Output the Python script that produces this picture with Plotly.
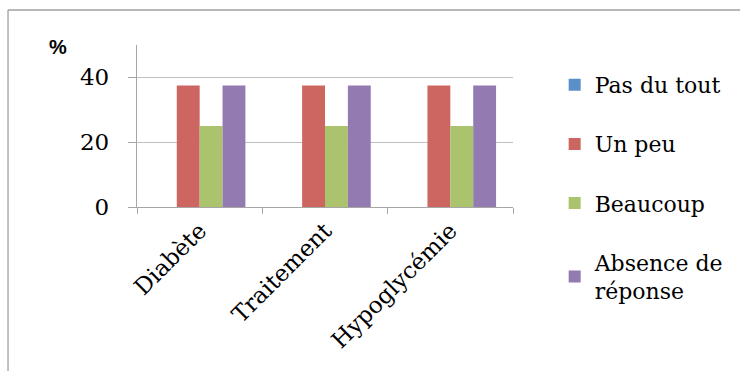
import plotly.graph_objects as go

# Survey answers, percentage of respondents per topic
categories = ["Diabète", "Traitement", "Hypoglycémie"]
series_names = ["Pas du tout", "Un peu", "Beaucoup", "Absence de<br>réponse"]
pas_du_tout = [0, 0, 0]
un_peu = [37.5, 37.5, 37.5]
beaucoup = [25, 25, 25]
absence = [37.5, 37.5, 37.5]
y_ticks = [0, 20, 40]

series_values = [pas_du_tout, un_peu, beaucoup, absence]
colors = ["#5B8FC9", "#CD6661", "#ABC36C", "#937BB2"]

W, H = 741, 371
L, R, T, B = 137, 225, 45, 164
PW, PH = W - L - R, H - T - B


def px_x(px):
    return (px - L) / PW


def px_y(py):
    return (H - B - py) / PH


serif = "DejaVu Serif"

fig = go.Figure()
for i, (name, vals) in enumerate(zip(series_names, series_values)):
    fig.add_trace(go.Bar(
        x=categories, y=vals, name=name,
        marker=dict(color=colors[i], line=dict(width=0)),
        legendgroup=f"g{i}",
    ))

fig.update_layout(
    width=W, height=H,
    margin=dict(l=L, r=R, t=T, b=B),
    paper_bgcolor="white", plot_bgcolor="white",
    barmode="group", bargap=0.27, bargroupgap=0,
    font=dict(family=serif, size=22, color="#000000"),
    showlegend=True,
    legend=dict(
        x=px_x(558), xanchor="left", y=px_y(64), yanchor="top",
        font=dict(family=serif, size=22, color="#000000"),
        tracegroupgap=27.5, bgcolor="rgba(0,0,0,0)", maxheight=330,
    ),
    xaxis=dict(
        type="category", tickangle=-45, tickson="boundaries",
        ticks="outside", ticklen=6, tickcolor="#A6A6A6",
        showline=True, linecolor="#A6A6A6", linewidth=1.3,
        showgrid=False, tickfont=dict(family=serif, size=23),
    ),
    yaxis=dict(
        range=[0, 50], tickvals=y_ticks, ticks="outside", ticklen=8,
        tickcolor="#A6A6A6", showline=True, linecolor="#A6A6A6", linewidth=1.3,
        showgrid=True, gridcolor="#BFBFBF", gridwidth=1.3,
        zeroline=False, ticklabelstandoff=14,
        tickfont=dict(family=serif, size=23),
    ),
    annotations=[dict(
        text="<b>%</b>", x=px_x(57), y=px_y(47), xref="paper", yref="paper",
        xanchor="center", yanchor="middle",
        showarrow=False, font=dict(family="Liberation Sans", size=20, color="#000000"),
    )],
    shapes=[
        dict(type="line", xref="paper", yref="paper",
             x0=px_x(7), x1=px_x(745), y0=px_y(10), y1=px_y(10),
             line=dict(color="#A0A0A0", width=1.3)),
        dict(type="line", xref="paper", yref="paper",
             x0=px_x(7), x1=px_x(7), y0=px_y(10), y1=px_y(375),
             line=dict(color="#A0A0A0", width=1.3)),
    ],
)

fig.write_html("out.html")
